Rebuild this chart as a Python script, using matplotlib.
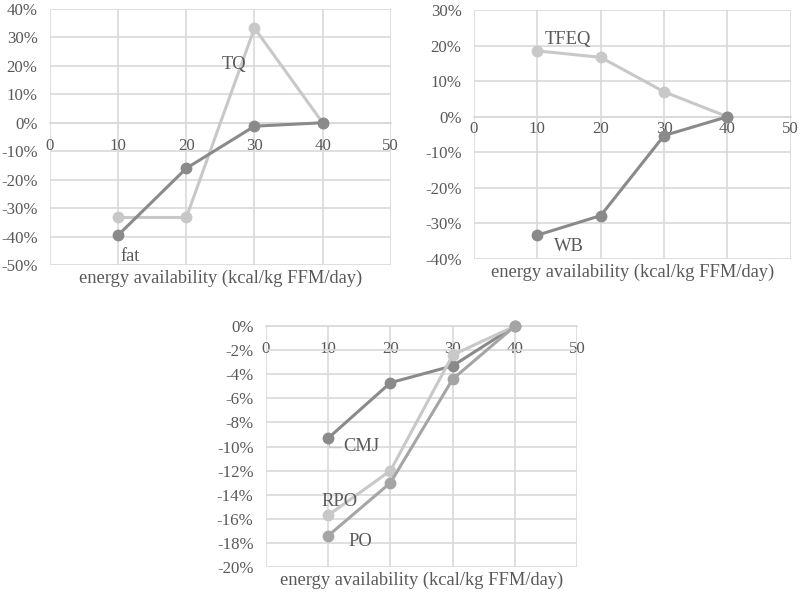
import matplotlib.pyplot as plt
from matplotlib.ticker import PercentFormatter

# energy availability (kcal/kg FFM/day)
ea = [10, 20, 30, 40]

# panel A
tq = [-33.3, -33.3, 33.3, 0.0]
fat = [-39.5, -16.0, -1.2, 0.0]

# panel B
tfeq = [18.5, 16.7, 7.0, 0.0]
wb = [-33.3, -27.8, -5.3, 0.0]

# panel C
cmj = [-9.3, -4.7, -3.3, 0.0]
rpo = [-15.7, -12.0, -2.4, 0.0]
po = [-17.4, -13.0, -4.4, 0.0]

LIGHT = '#c8c8c8'
DARK = '#8a8a8a'
MID = '#a5a5a5'
GRID = '#d9d9d9'
TXT = '#595959'

plt.rcParams['font.family'] = ['Liberation Serif', 'DejaVu Serif']
plt.rcParams['axes.unicode_minus'] = False

fig = plt.figure(figsize=(8, 5.92), dpi=100)


def setup(ax, ymin, ymax, ystep, xpad):
    ax.set_xlim(0, 50)
    ax.set_ylim(ymin, ymax)
    ax.set_xticks(range(0, 51, 10))
    ax.set_yticks(range(ymin, ymax + 1, ystep))
    ax.yaxis.set_major_formatter(PercentFormatter(decimals=0))
    ax.grid(True, color=GRID, linewidth=1.2)
    ax.set_axisbelow(True)
    for s in ['top', 'right', 'left']:
        ax.spines[s].set_visible(False)
    ax.spines['bottom'].set_position(('data', 0))
    ax.spines['bottom'].set_color(GRID)
    ax.spines['bottom'].set_linewidth(1.2)
    ax.tick_params(length=0, colors=TXT, labelsize=12.2)
    ax.tick_params(axis='x', pad=xpad)
    ax.tick_params(axis='y', pad=9)
    ax.set_xlabel('energy availability (kcal/kg FFM/day)', color=TXT,
                  fontsize=13.3)
    ax.xaxis.set_label_coords(0.5, -0.02, transform=ax.transAxes)
    ax.xaxis.label.set_va('top')


def line(ax, y, c):
    ax.plot(ea, y, color=c, linewidth=2.2, marker='o', markersize=7.5,
            clip_on=False, zorder=3)


# A
ax1 = fig.add_axes([0.0625, 0.5524, 0.426, 0.4324])
setup(ax1, -50, 40, 10, 11)
line(ax1, tq, LIGHT)
line(ax1, fat, DARK)
ax1.text(25.2, 20.5, 'TQ', color=TXT, fontsize=13.3, va='center')
ax1.text(10.3, -47, 'fat', color=TXT, fontsize=13.3, va='center')

# B
ax2 = fig.add_axes([0.5925, 0.5625, 0.396, 0.4206])
setup(ax2, -40, 30, 10, 3)
line(ax2, tfeq, LIGHT)
line(ax2, wb, DARK)
ax2.text(11.2, 21.6, 'TFEQ', color=TXT, fontsize=13.3, va='center')
ax2.text(12.6, -36.4, 'WB', color=TXT, fontsize=13.3, va='center')

# C
ax3 = fig.add_axes([0.3325, 0.0422, 0.389, 0.407])
setup(ax3, -20, 0, 2, 11)
line(ax3, cmj, DARK)
line(ax3, rpo, LIGHT)
line(ax3, po, MID)
ax3.plot([10.2, 10.2, 12.0], [-9.5, -10.0, -10.0], color=LIGHT, linewidth=1)
ax3.text(12.4, -10.0, 'CMJ', color=TXT, fontsize=13.3, va='center')
ax3.text(8.85, -14.6, 'RPO', color=TXT, fontsize=13.3, va='center')
ax3.text(13.3, -17.9, 'PO', color=TXT, fontsize=13.3, va='center')

fig.savefig('out.png', dpi=100)
